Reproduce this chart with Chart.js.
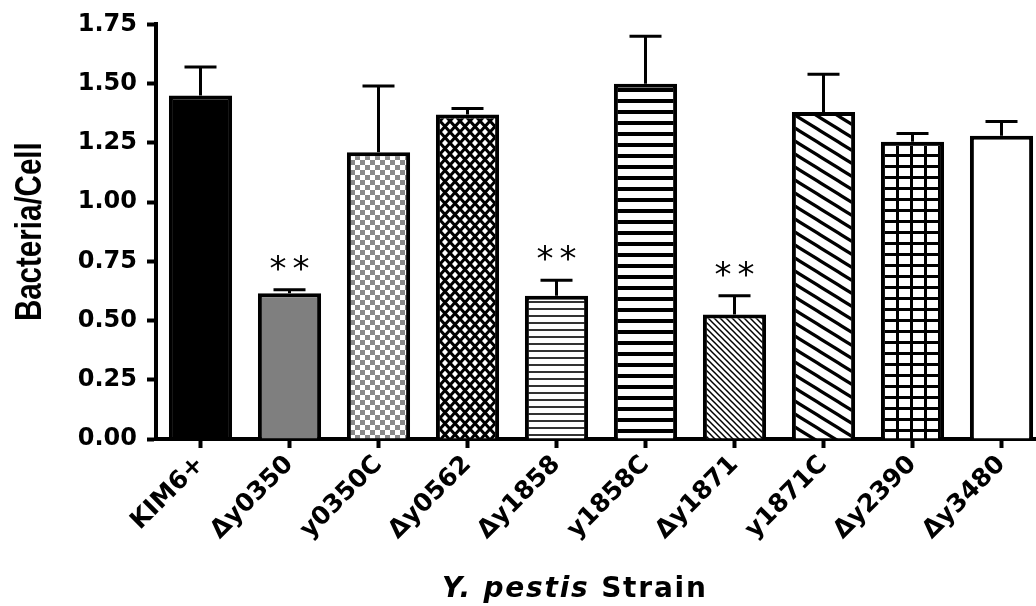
<!DOCTYPE html>
<html>
<head>
<meta charset="utf-8">
<script src="https://cdn.jsdelivr.net/npm/chart.js@4/dist/chart.umd.min.js"></script>
<style>
  html, body { margin: 0; padding: 0; overflow: hidden; background: #fff; }
  #wrap { position: relative; width: 1050px; height: 606px; }
  #xtitle {
    position: absolute; left: 442px; top: 574px;
    font-family: "DejaVu Sans", sans-serif; font-weight: bold; font-size: 28px;
    letter-spacing: 1.8px; line-height: 28px; color: #000; white-space: nowrap;
  }
  #xtitle i { font-style: oblique; }
</style>
</head>
<body>
<div id="wrap">
  <canvas id="chart"></canvas>
  <div id="xtitle"><i>Y. pestis</i> Strain</div>
</div>
<script>
// Strains on the x axis
const strains = ['KIM6+', 'Δy0350', 'y0350C', 'Δy0562', 'Δy1858', 'y1858C', 'Δy1871', 'y1871C', 'Δy2390', 'Δy3480'];
// Mean bacteria per cell and upper error (SEM)
const means  = [1.45, 0.615, 1.21, 1.37, 0.605, 1.50, 0.525, 1.38, 1.255, 1.28];
const errors = [0.12, 0.015, 0.28, 0.025, 0.065, 0.20, 0.08, 0.16, 0.035, 0.06];
// Significance markers shown above each bar
const marks  = ['', '**', '', '', '**', '', '**', '', '', ''];
// Y axis tick values and title
const yTicks = [0, 0.25, 0.5, 0.75, 1.0, 1.25, 1.5, 1.75];
const yTitle = 'Bacteria/Cell';

// Fill patterns for each bar
function tile(w, h, draw) {
  const c = document.createElement('canvas');
  c.width = w; c.height = h;
  const g = c.getContext('2d');
  g.fillStyle = '#fff';
  g.fillRect(0, 0, w, h);
  draw(g, w, h);
  return g.createPattern(c, 'repeat');
}
function diagLines(g, w, h, lw) {
  g.strokeStyle = '#000';
  g.lineWidth = lw;
  for (const dy of [-h, 0, h]) {
    g.beginPath();
    g.moveTo(-1, dy - h / w);
    g.lineTo(w + 1, dy + h + h / w);
    g.stroke();
  }
}
const fills = [
  '#000000',
  '#7f7f7f',
  tile(10, 10, g => { g.fillStyle = '#8a8a8a'; g.fillRect(0, 0, 5, 5); g.fillRect(5, 5, 5, 5); }),
  tile(10, 11, g => {
    g.strokeStyle = '#000'; g.lineWidth = 3;
    for (const dx of [-10, 0, 10]) {
      g.beginPath();
      g.moveTo(dx, 0); g.lineTo(dx + 10, 11);
      g.moveTo(dx + 10, 0); g.lineTo(dx, 11);
      g.stroke();
    }
  }),
  tile(8, 7, g => { g.fillStyle = '#333'; g.fillRect(0, 0, 8, 2); }),
  tile(8, 11, g => { g.fillStyle = '#000'; g.fillRect(0, 0, 8, 4); }),
  tile(6, 6, g => diagLines(g, 6, 6, 1.5)),
  tile(21, 13, g => diagLines(g, 21, 13, 3.2)),
  tile(14, 11, g => { g.fillStyle = '#000'; g.fillRect(0, 0, 3, 11); g.fillRect(0, 0, 14, 3); }),
  '#ffffff'
];

// Upper error bars and significance asterisks
const errorBars = {
  id: 'errorBars',
  afterDatasetsDraw(chart) {
    const { ctx } = chart;
    const y = chart.scales.y;
    const meta = chart.getDatasetMeta(0);
    ctx.save();
    ctx.strokeStyle = '#000';
    ctx.fillStyle = '#000';
    ctx.lineWidth = 3;
    meta.data.forEach((bar, i) => {
      const cx = bar.x;
      const base = y.getPixelForValue(means[i]);
      const top = y.getPixelForValue(means[i] + errors[i]);
      ctx.beginPath();
      ctx.moveTo(cx, base);
      ctx.lineTo(cx, top);
      ctx.moveTo(cx - 16, top);
      ctx.lineTo(cx + 16, top);
      ctx.stroke();
      const m = marks[i];
      if (m) {
        ctx.font = '34px "DejaVu Sans"';
        ctx.textAlign = 'center';
        ctx.textBaseline = 'alphabetic';
        const n = m.length;
        for (let k = 0; k < n; k++) {
          ctx.fillText(m[k], cx + (k - (n - 1) / 2) * 23, top - 10);
        }
      }
    });
    ctx.restore();
  }
};

// Condensed, rotated y-axis title
const condensedYTitle = {
  id: 'condensedYTitle',
  afterDraw(chart) {
    const { ctx, chartArea } = chart;
    ctx.save();
    ctx.translate(41, (chartArea.top + chartArea.bottom) / 2);
    ctx.rotate(-Math.PI / 2);
    ctx.scale(0.82, 1);
    ctx.font = 'bold 36px "Liberation Sans"';
    ctx.fillStyle = '#000';
    ctx.textAlign = 'center';
    ctx.textBaseline = 'alphabetic';
    ctx.fillText(yTitle, 0, 0);
    ctx.restore();
  }
};

new Chart(document.getElementById('chart'), {
  type: 'bar',
  data: {
    labels: strains,
    datasets: [{
      data: means,
      backgroundColor: fills,
      borderColor: '#000',
      borderWidth: 4,
      barPercentage: 0.71,
      categoryPercentage: 1.0
    }]
  },
  options: {
    responsive: true,
    maintainAspectRatio: false,
    animation: false,
    layout: { padding: { top: 21, right: 4, left: 0, bottom: 0 } },
    plugins: { legend: { display: false }, tooltip: { enabled: false } },
    scales: {
      x: {
        afterFit(s) { s.height = 167; },
        border: { display: true, width: 4, color: '#000' },
        grid: { offset: false, drawOnChartArea: false, drawTicks: true, tickLength: 9, tickWidth: 4, tickColor: '#000', color: '#000' },
        ticks: {
          autoSkip: false, maxRotation: 45, minRotation: 45, padding: 2,
          color: '#000', font: { family: 'DejaVu Sans', weight: 'bold', size: 25 }
        }
      },
      y: {
        min: 0, max: 1.75,
        afterFit(s) { s.width = 156; },
        afterBuildTicks(s) { s.ticks = yTicks.map(v => ({ value: v })); },
        border: { display: true, width: 4, color: '#000' },
        grid: { drawOnChartArea: false, drawTicks: true, tickLength: 9, tickWidth: 4, tickColor: '#000', color: '#000' },
        ticks: {
          padding: 10, color: '#000',
          font: { family: 'DejaVu Sans', weight: 'bold', size: 24 },
          callback: v => Number(v).toFixed(2)
        }
      }
    }
  },
  plugins: [errorBars, condensedYTitle]
});
</script>
</body>
</html>
